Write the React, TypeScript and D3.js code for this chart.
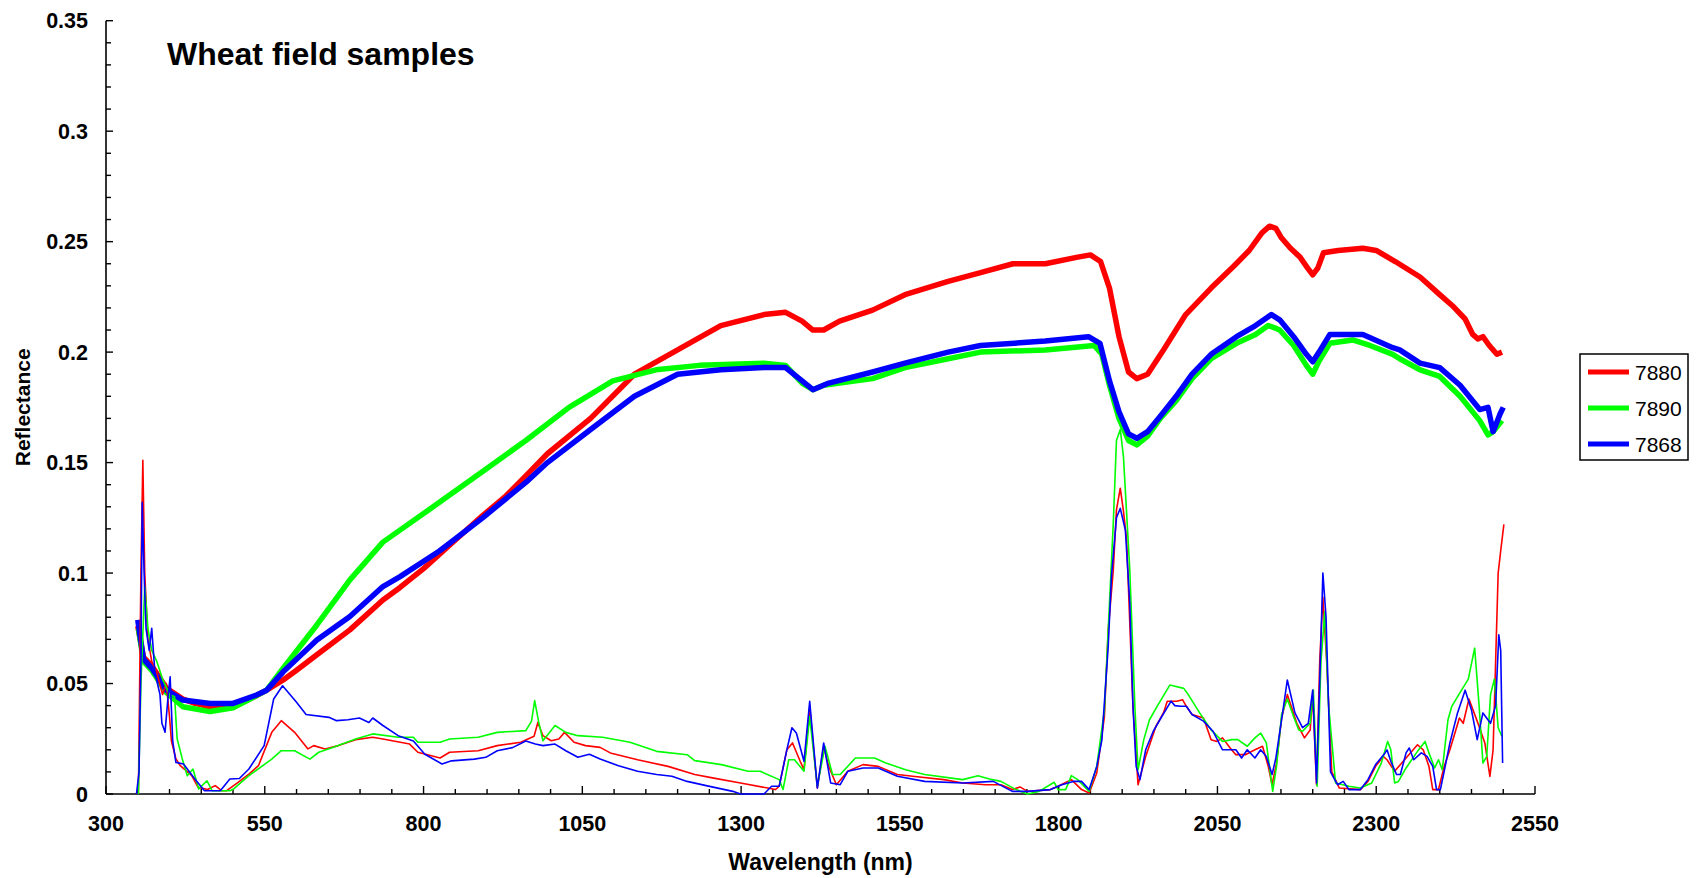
import React from "react";
import * as d3 from "d3";

const seriesNames = ["7880", "7890", "7868"];
const seriesColors = ["#ff0000", "#00ff00", "#0000ff"];
const xTickValues = [300, 550, 800, 1050, 1300, 1550, 1800, 2050, 2300, 2550];
const yTickValues = [0, 0.05, 0.1, 0.15, 0.2, 0.25, 0.3, 0.35];
const yTickLabels = ["0", "0.05", "0.1", "0.15", "0.2", "0.25", "0.3", "0.35"];

// Thick lines: reflectance spectra [wavelength nm, reflectance]
const spectrum7880: [number, number][] = [
  [350, 0.076], [359, 0.062], [372, 0.058], [395, 0.048], [421, 0.043], [440, 0.041], [464, 0.0395],
  [500, 0.0395], [537, 0.0445], [553, 0.047], [579, 0.0516], [600, 0.056], [632, 0.063], [684, 0.0743],
  [736, 0.0878], [763, 0.0935], [800, 0.102], [850, 0.115], [893, 0.126], [930, 0.135], [961, 0.144],
  [995, 0.154], [1063, 0.17], [1132, 0.19], [1200, 0.201], [1268, 0.212], [1336, 0.217], [1370, 0.218],
  [1396, 0.214], [1413, 0.21], [1430, 0.21], [1455, 0.214], [1507, 0.219], [1558, 0.226], [1626, 0.232],
  [1677, 0.236], [1728, 0.24], [1779, 0.24], [1830, 0.243], [1850, 0.244], [1866, 0.241], [1880, 0.229],
  [1895, 0.207], [1910, 0.191], [1923, 0.188], [1940, 0.19], [1965, 0.201], [2000, 0.217], [2040, 0.229],
  [2076, 0.239], [2100, 0.246], [2120, 0.254], [2132, 0.257], [2142, 0.256], [2150, 0.252], [2165, 0.247],
  [2180, 0.243], [2192, 0.238], [2200, 0.235], [2208, 0.238], [2217, 0.245], [2240, 0.246], [2279, 0.247],
  [2300, 0.246], [2330, 0.241], [2369, 0.234], [2400, 0.226], [2420, 0.221], [2440, 0.215], [2452, 0.208],
  [2460, 0.206], [2468, 0.207], [2478, 0.203], [2490, 0.199], [2498, 0.2],
];

const spectrum7890: [number, number][] = [
  [351, 0.075], [359, 0.06], [372, 0.056], [395, 0.046], [421, 0.0395], [464, 0.0373], [500, 0.039],
  [537, 0.0445], [553, 0.047], [579, 0.057], [632, 0.0765], [684, 0.0969], [736, 0.114], [825, 0.132],
  [893, 0.146], [961, 0.16], [1029, 0.175], [1098, 0.187], [1166, 0.192], [1234, 0.194], [1336, 0.195],
  [1370, 0.194], [1396, 0.186], [1413, 0.183], [1430, 0.185], [1455, 0.186], [1507, 0.188], [1558, 0.193],
  [1626, 0.197], [1677, 0.2], [1779, 0.201], [1856, 0.203], [1868, 0.199], [1880, 0.185], [1895, 0.17],
  [1910, 0.16], [1923, 0.158], [1940, 0.162], [1960, 0.17], [1985, 0.178], [2010, 0.188], [2040, 0.197],
  [2080, 0.204], [2110, 0.208], [2130, 0.212], [2140, 0.211], [2148, 0.21], [2170, 0.203], [2190, 0.194],
  [2200, 0.19], [2210, 0.196], [2227, 0.204], [2263, 0.2055], [2290, 0.203], [2326, 0.199], [2337, 0.197],
  [2369, 0.192], [2400, 0.189], [2432, 0.18], [2463, 0.169], [2476, 0.1625], [2484, 0.164], [2498, 0.169],
];

const spectrum7868: [number, number][] = [
  [350, 0.0788], [359, 0.061], [372, 0.057], [395, 0.047], [421, 0.0425], [464, 0.041], [500, 0.041],
  [537, 0.0448], [553, 0.047], [579, 0.0553], [632, 0.0697], [684, 0.0803], [736, 0.0939], [763, 0.0984],
  [825, 0.11], [893, 0.125], [961, 0.141], [995, 0.15], [1063, 0.165], [1132, 0.18], [1200, 0.19],
  [1268, 0.192], [1336, 0.193], [1370, 0.193], [1396, 0.187], [1413, 0.183], [1438, 0.186], [1507, 0.191],
  [1558, 0.195], [1626, 0.2], [1677, 0.203], [1779, 0.205], [1847, 0.207], [1865, 0.204], [1880, 0.187],
  [1895, 0.173], [1910, 0.163], [1923, 0.161], [1940, 0.164], [1960, 0.171], [1985, 0.18], [2010, 0.19],
  [2040, 0.199], [2080, 0.207], [2110, 0.212], [2135, 0.217], [2148, 0.2146], [2170, 0.207], [2190, 0.199],
  [2200, 0.1956], [2210, 0.2], [2227, 0.208], [2279, 0.208], [2326, 0.202], [2337, 0.201], [2369, 0.195],
  [2400, 0.193], [2432, 0.185], [2463, 0.174], [2476, 0.175], [2484, 0.164], [2495, 0.172], [2500, 0.175],
];

// Thin lines: deviation spectra [wavelength nm, value]
const deviation7880: [number, number][] = [
  [351, 0], [355, 0.1], [358, 0.151], [361, 0.1], [366, 0.07], [372, 0.06], [380, 0.055], [389, 0.045],
  [395, 0.05], [400, 0.035], [403, 0.024], [410, 0.016], [417, 0.0128], [435, 0.0083], [445, 0.003],
  [460, 0.002], [472, 0.0038], [482, 0.0015], [490, 0.0015], [508, 0.0053], [525, 0.009], [540, 0.0128],
  [561, 0.0279], [576, 0.0332], [597, 0.0279], [618, 0.0204], [627, 0.0219], [645, 0.0204], [666, 0.0219],
  [693, 0.0246], [720, 0.0257], [736, 0.0249], [778, 0.0226], [791, 0.0189], [826, 0.0163], [841, 0.0189],
  [886, 0.0196], [916, 0.0219], [953, 0.0234], [974, 0.0261], [980, 0.0324], [988, 0.0264], [1001, 0.0241],
  [1013, 0.0249], [1022, 0.0279], [1037, 0.0234], [1055, 0.0219], [1078, 0.0211], [1094, 0.0186],
  [1137, 0.0155], [1185, 0.0125], [1227, 0.0088], [1257, 0.0072], [1299, 0.005], [1342, 0.0027],
  [1354, 0.002], [1360, 0.0035], [1372, 0.02], [1381, 0.0231], [1393, 0.0148], [1399, 0.011], [1408, 0.039],
  [1420, 0.0027], [1430, 0.0216], [1438, 0.0125], [1450, 0.0042], [1468, 0.0103], [1492, 0.0133],
  [1516, 0.0125], [1546, 0.0088], [1570, 0.008], [1619, 0.0065], [1649, 0.005], [1685, 0.0042],
  [1709, 0.0042], [1727, 0.002], [1739, 0.0032], [1751, 0.0012], [1787, 0.002], [1799, 0.0035],
  [1820, 0.0065], [1836, 0.002], [1848, 0.0005], [1860, 0.0095], [1872, 0.035], [1878, 0.0742],
  [1886, 0.1014], [1891, 0.1286], [1897, 0.1384], [1902, 0.128], [1907, 0.115], [1917, 0.0395],
  [1925, 0.0042], [1937, 0.017], [1953, 0.0306], [1965, 0.0367], [1971, 0.042], [1986, 0.042],
  [1995, 0.0427], [2001, 0.0397], [2010, 0.036], [2028, 0.0344], [2040, 0.0246], [2049, 0.0238],
  [2058, 0.0254], [2070, 0.0208], [2079, 0.0178], [2094, 0.0178], [2109, 0.02], [2121, 0.0216],
  [2130, 0.0125], [2136, 0.0042], [2143, 0.014], [2151, 0.0344], [2160, 0.045], [2175, 0.032],
  [2187, 0.0254], [2196, 0.029], [2200, 0.045], [2206, 0.0042], [2211, 0.06], [2216, 0.089], [2222, 0.06],
  [2230, 0.01], [2242, 0.0027], [2275, 0.002], [2287, 0.0057], [2299, 0.0125], [2311, 0.017],
  [2317, 0.0155], [2329, 0.0103], [2347, 0.0163], [2365, 0.0223], [2374, 0.02], [2383, 0.0125],
  [2389, 0.002], [2398, 0.002], [2407, 0.0125], [2416, 0.02], [2431, 0.0344], [2437, 0.032],
  [2446, 0.043], [2462, 0.0306], [2471, 0.0231], [2479, 0.008], [2484, 0.02], [2488, 0.06],
  [2492, 0.1], [2496, 0.11], [2501, 0.122],
];

const deviation7890: [number, number][] = [
  [351, 0], [355, 0.05], [361, 0.094], [366, 0.075], [372, 0.065], [380, 0.06], [389, 0.052], [400, 0.045],
  [408, 0.044], [412, 0.025], [420, 0.016], [428, 0.0083], [437, 0.0113], [446, 0.0023], [459, 0.006],
  [467, 0.0015], [495, 0.0015], [501, 0.0023], [525, 0.0083], [561, 0.0158], [576, 0.0196], [597, 0.0196],
  [621, 0.0158], [635, 0.0189], [657, 0.0211], [693, 0.0249], [720, 0.0272], [760, 0.0257], [784, 0.0257],
  [791, 0.0234], [826, 0.0234], [841, 0.0249], [886, 0.0257], [916, 0.0279], [961, 0.0287], [970, 0.033],
  [975, 0.0423], [981, 0.033], [988, 0.0241], [1007, 0.031], [1024, 0.0279], [1043, 0.0264], [1082, 0.0257],
  [1125, 0.0234], [1167, 0.0193], [1215, 0.0178], [1227, 0.0151], [1269, 0.0133], [1311, 0.0103],
  [1330, 0.0103], [1360, 0.0065], [1366, 0.002], [1375, 0.0155], [1384, 0.0155], [1399, 0.0103],
  [1408, 0.035], [1420, 0.0035], [1432, 0.0216], [1444, 0.0088], [1456, 0.0088], [1480, 0.0163],
  [1510, 0.0163], [1528, 0.014], [1559, 0.011], [1589, 0.0088], [1649, 0.0065], [1673, 0.0083],
  [1691, 0.0068], [1709, 0.0057], [1733, 0.002], [1751, 0], [1769, 0.0012], [1793, 0.0053], [1799, 0.002],
  [1811, 0.002], [1820, 0.0083], [1830, 0.0065], [1848, 0.0012], [1860, 0.0125], [1872, 0.038],
  [1886, 0.1225], [1891, 0.16], [1897, 0.165], [1902, 0.1527], [1912, 0.1014], [1920, 0.0395], [1925, 0.011],
  [1934, 0.0246], [1943, 0.0336], [1955, 0.0397], [1975, 0.0493], [1997, 0.0478], [2004, 0.045],
  [2022, 0.0367], [2040, 0.029], [2058, 0.0238], [2073, 0.0246], [2082, 0.0246], [2097, 0.0216],
  [2109, 0.0254], [2118, 0.0276], [2127, 0.0231], [2137, 0.0012], [2143, 0.0125], [2151, 0.036],
  [2160, 0.043], [2170, 0.035], [2178, 0.029], [2184, 0.0284], [2196, 0.032], [2201, 0.047], [2207, 0.0035],
  [2213, 0.06], [2219, 0.0825], [2225, 0.04], [2236, 0.005], [2257, 0.0035], [2275, 0.0027], [2293, 0.005],
  [2308, 0.014], [2318, 0.0238], [2323, 0.02], [2329, 0.005], [2335, 0.0057], [2347, 0.0118], [2365, 0.0193],
  [2377, 0.0238], [2383, 0.0186], [2392, 0.0118], [2398, 0.0155], [2404, 0.011], [2413, 0.0336],
  [2419, 0.0397], [2430, 0.045], [2445, 0.052], [2455, 0.066], [2462, 0.04], [2468, 0.014], [2474, 0.017],
  [2480, 0.045], [2486, 0.052], [2492, 0.03], [2498, 0.026],
];

const deviation7868: [number, number][] = [
  [348, 0], [352, 0.01], [355, 0.06], [357, 0.132], [360, 0.1], [363, 0.075], [368, 0.065], [372, 0.075],
  [377, 0.055], [385, 0.045], [388, 0.032], [393, 0.028], [398, 0.045], [401, 0.053], [405, 0.024],
  [410, 0.0143], [422, 0.0136], [440, 0.0068], [455, 0.0015], [480, 0.0015], [495, 0.0068], [510, 0.007],
  [525, 0.0113], [549, 0.0219], [564, 0.043], [578, 0.049], [600, 0.0415], [615, 0.036], [651, 0.0347],
  [663, 0.0332], [681, 0.0336], [699, 0.0344], [714, 0.0324], [720, 0.0344], [736, 0.031], [760, 0.0264],
  [784, 0.024], [802, 0.018], [829, 0.0136], [844, 0.015], [880, 0.0158], [898, 0.0166], [916, 0.0196],
  [940, 0.021], [961, 0.024], [976, 0.0226], [988, 0.0219], [1007, 0.0226], [1024, 0.0196], [1043, 0.0166],
  [1061, 0.018], [1078, 0.0158], [1107, 0.0128], [1137, 0.0103], [1167, 0.0088], [1191, 0.008],
  [1215, 0.0057], [1245, 0.0038], [1287, 0.0012], [1299, 0], [1336, 0], [1348, 0.0035], [1360, 0.0035],
  [1372, 0.02], [1380, 0.03], [1387, 0.0276], [1399, 0.0148], [1408, 0.042], [1420, 0.0027], [1430, 0.0231],
  [1441, 0.005], [1456, 0.0042], [1468, 0.0103], [1492, 0.0118], [1516, 0.0118], [1546, 0.008],
  [1589, 0.0057], [1649, 0.005], [1697, 0.0057], [1727, 0.0012], [1751, 0.0012], [1787, 0.002],
  [1805, 0.0042], [1823, 0.0057], [1836, 0.0057], [1848, 0.002], [1860, 0.0125], [1868, 0.0244],
  [1878, 0.0667], [1883, 0.098], [1891, 0.125], [1897, 0.1293], [1905, 0.1195], [1912, 0.0863],
  [1917, 0.0395], [1922, 0.0125], [1928, 0.0065], [1937, 0.02], [1949, 0.0284], [1961, 0.0344],
  [1977, 0.042], [1983, 0.04], [1992, 0.0397], [2001, 0.0397], [2010, 0.036], [2028, 0.033], [2043, 0.0284],
  [2058, 0.02], [2079, 0.02], [2088, 0.0163], [2097, 0.02], [2109, 0.0163], [2118, 0.02], [2127, 0.017],
  [2136, 0.0088], [2142, 0.0163], [2151, 0.0336], [2160, 0.0516], [2172, 0.0367], [2184, 0.03],
  [2193, 0.032], [2200, 0.047], [2206, 0.005], [2212, 0.06], [2216, 0.1], [2221, 0.08], [2228, 0.01],
  [2239, 0.0042], [2248, 0.0057], [2257, 0.002], [2275, 0.002], [2287, 0.0065], [2299, 0.0133],
  [2314, 0.0186], [2317, 0.02], [2323, 0.0148], [2332, 0.0088], [2338, 0.0088], [2347, 0.0186],
  [2352, 0.0208], [2359, 0.0155], [2371, 0.0186], [2380, 0.017], [2389, 0.0125], [2395, 0.002],
  [2401, 0.002], [2407, 0.0103], [2416, 0.0231], [2428, 0.0367], [2440, 0.047], [2450, 0.038],
  [2459, 0.0246], [2468, 0.0367], [2480, 0.032], [2488, 0.04], [2493, 0.072], [2496, 0.065], [2499, 0.014],
];

const spectra = [spectrum7880, spectrum7890, spectrum7868];
const deviations = [deviation7880, deviation7890, deviation7868];

const W = 1700;
const H = 878;
const FONT = "'Liberation Sans', Arial, sans-serif";

export default function App() {
  const x = d3.scaleLinear().domain([300, 2550]).range([106, 1535]);
  const y = d3.scaleLinear().domain([0, 0.35]).range([794, 20.7]);
  const line = d3
    .line<[number, number]>()
    .x((d) => x(d[0]))
    .y((d) => y(d[1]));

  const xMinor = d3.range(300, 2551, 50);
  const yMinor = d3.range(0, 0.3501, 0.01);
  const x0 = x(300);
  const y0 = y(0);

  return (
    <svg
      width={W}
      height={H}
      style={{ position: "absolute", left: 0, top: 0, background: "#fff" }}
      fontFamily={FONT}
    >
      <rect x={0} y={0} width={W} height={H} fill="#fff" />
      {/* title */}
      <text x={167} y={65} fontSize={32} fontWeight="bold" fill="#000">
        Wheat field samples
      </text>

      {/* x axis */}
      <line x1={x0} x2={x(2550)} y1={y0} y2={y0} stroke="#000" strokeWidth={1.6} />
      {xMinor.map((v) => {
        const major = xTickValues.includes(Math.round(v));
        return (
          <line
            key={"xm" + v}
            x1={x(v)}
            x2={x(v)}
            y1={y0}
            y2={y0 - (major ? 8 : 5)}
            stroke="#000"
            strokeWidth={1.4}
          />
        );
      })}
      {xTickValues.map((v) => (
        <text
          key={"xl" + v}
          x={x(v)}
          y={831}
          textAnchor="middle"
          fontSize={21.5}
          fontWeight="bold"
          fill="#000"
        >
          {v}
        </text>
      ))}
      <text x={(x(300) + x(2550)) / 2} y={870} textAnchor="middle" fontSize={23} fontWeight="bold" fill="#000">
        Wavelength (nm)
      </text>

      {/* y axis */}
      <line x1={x0} x2={x0} y1={y0} y2={y(0.35)} stroke="#000" strokeWidth={1.6} />
      {yMinor.map((v, i) => {
        const major = i % 5 === 0;
        return (
          <line
            key={"ym" + i}
            x1={x0}
            x2={x0 + (major ? 7 : 5)}
            y1={y(v)}
            y2={y(v)}
            stroke="#000"
            strokeWidth={1.4}
          />
        );
      })}
      {yTickValues.map((v, i) => (
        <text
          key={"yl" + i}
          x={88}
          y={y(v)}
          dy="0.36em"
          textAnchor="end"
          fontSize={21.5}
          fontWeight="bold"
          fill="#000"
        >
          {yTickLabels[i]}
        </text>
      ))}
      <text
        transform={`translate(30, ${(y(0) + y(0.35)) / 2}) rotate(-90)`}
        textAnchor="middle"
        fontSize={21}
        fontWeight="bold"
        fill="#000"
      >
        Reflectance
      </text>

      {/* thick spectra */}
      {spectra.map((s, i) => (
        <path
          key={"s" + i}
          d={line(s) || ""}
          fill="none"
          stroke={seriesColors[i]}
          strokeWidth={5.5}
          strokeLinejoin="round"
        />
      ))}
      {/* thin lines */}
      {deviations.map((s, i) => (
        <path
          key={"d" + i}
          d={line(s) || ""}
          fill="none"
          stroke={seriesColors[i]}
          strokeWidth={1.6}
          strokeLinejoin="round"
        />
      ))}

      {/* legend */}
      <rect x={1580} y={354} width={108} height={106} fill="#fff" stroke="#000" strokeWidth={1.5} />
      {seriesNames.map((n, i) => {
        const ly = 372 + i * 36;
        return (
          <g key={"lg" + n}>
            <line x1={1588} x2={1629} y1={ly} y2={ly} stroke={seriesColors[i]} strokeWidth={5} />
            <text x={1635} y={ly} dy="0.36em" fontSize={21} fill="#000">
              {n}
            </text>
          </g>
        );
      })}
    </svg>
  );
}
